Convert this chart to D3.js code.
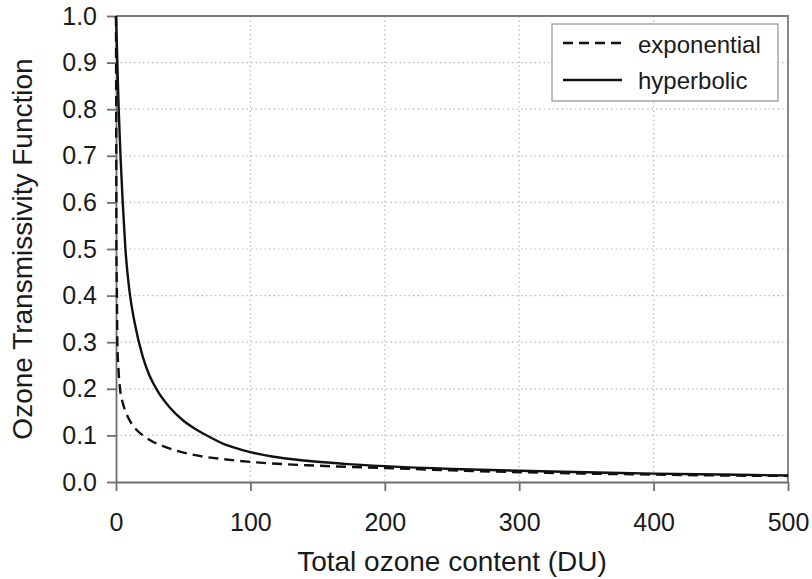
<!DOCTYPE html>
<html>
<head>
<meta charset="utf-8">
<script src="https://cdn.jsdelivr.net/npm/d3@7"></script>
<style>
  html, body { margin: 0; padding: 0; background: #fff; }
  svg { display: block; font-family: "Liberation Sans", Arial, sans-serif; }
</style>
</head>
<body>
<svg id="chart" width="812" height="579"></svg>
<script>
// Ozone transmissivity versus total ozone content (DU)
const xTicks = [0, 100, 200, 300, 400, 500];
const yTicks = [0.0, 0.1, 0.2, 0.3, 0.4, 0.5, 0.6, 0.7, 0.8, 0.9, 1.0];

// hyperbolic form: ozone content (DU) and transmissivity
const hypX = [0, 1, 2, 3.5, 5, 7, 10, 14, 20, 25, 30, 40, 50, 60, 70, 80, 90, 100, 120, 140, 170, 200, 250, 300, 350, 400, 450, 500];
const hypY = [1.0, 0.9, 0.8, 0.69, 0.6, 0.5, 0.41, 0.34, 0.268, 0.228, 0.2, 0.16, 0.132, 0.112, 0.096, 0.082, 0.072, 0.064, 0.053, 0.046, 0.039, 0.034, 0.028, 0.024, 0.021, 0.018, 0.016, 0.014];

// exponential form
const expX = [0, 0.15, 0.3, 0.7, 1, 2, 3, 5, 7, 10, 14, 20, 27, 35, 45, 60, 80, 105, 150, 200, 250, 300, 350, 400, 450, 500];
const expY = [1.0, 0.8, 0.5, 0.4, 0.3, 0.235, 0.2, 0.17, 0.152, 0.133, 0.116, 0.1, 0.087, 0.077, 0.067, 0.057, 0.049, 0.042, 0.035, 0.03, 0.025, 0.021, 0.018, 0.016, 0.014, 0.013];

const seriesNames = ["exponential", "hyperbolic"];

const svg = d3.select("#chart");
const plotL = 116, plotR = 788, plotT = 16, plotB = 482;

const x = d3.scaleLinear().domain([0, 500]).range([plotL, plotR]);
const y = d3.scaleLinear().domain([0, 1]).range([plotB, plotT]);

// dotted grid
const grid = svg.append("g");
grid.selectAll("line.gy").data(yTicks.filter(v => v > 0 && v < 1)).join("line")
  .attr("x1", plotL).attr("x2", plotR)
  .attr("y1", d => y(d)).attr("y2", d => y(d))
  .attr("stroke", "#bcbcbc").attr("stroke-width", 1.2).attr("stroke-dasharray", "1.5,3");
grid.selectAll("line.gx").data(xTicks.filter(v => v > 0 && v < 500)).join("line")
  .attr("x1", d => x(d)).attr("x2", d => x(d))
  .attr("y1", plotT).attr("y2", plotB)
  .attr("stroke", "#bcbcbc").attr("stroke-width", 1.2).attr("stroke-dasharray", "1.5,3");

// plot frame (top and right)
svg.append("path")
  .attr("d", `M${plotL},${plotT}H${plotR}V${plotB}`)
  .attr("fill", "none").attr("stroke", "#7a7a7a").attr("stroke-width", 1.8);

// axes
const yAxis = svg.append("g").attr("transform", `translate(${plotL},0)`)
  .call(d3.axisLeft(y).tickValues(yTicks).tickFormat(d3.format(".1f")).tickSize(9).tickSizeOuter(0).tickPadding(10));
const xAxis = svg.append("g").attr("transform", `translate(0,${plotB})`)
  .call(d3.axisBottom(x).tickValues(xTicks).tickFormat(d3.format("d")).tickSize(9).tickSizeOuter(0).tickPadding(22));

[yAxis, xAxis].forEach(g => {
  g.selectAll("path.domain").attr("stroke", "#6e6e6e").attr("stroke-width", 1.8);
  g.selectAll(".tick line").attr("stroke", "#6e6e6e").attr("stroke-width", 1.8);
  g.selectAll("text").attr("fill", "#1a1a1a").style("font-size", "25px")
    .style("font-family", "'Liberation Sans', Arial, sans-serif");
});

// curves
const line = d3.line().x(d => x(d[0])).y(d => y(d[1])).curve(d3.curveMonotoneX);
const expData = expX.map((v, i) => [v, expY[i]]);
const hypData = hypX.map((v, i) => [v, hypY[i]]);

svg.append("path").datum(expData).attr("d", line)
  .attr("fill", "none").attr("stroke", "#111").attr("stroke-width", 2.4)
  .attr("stroke-dasharray", "10,6");
svg.append("path").datum(hypData).attr("d", line)
  .attr("fill", "none").attr("stroke", "#111").attr("stroke-width", 2.4);

// axis titles
svg.append("text")
  .attr("x", (plotL + plotR) / 2).attr("y", 571)
  .attr("text-anchor", "middle").attr("fill", "#1a1a1a")
  .style("font-size", "28px").text("Total ozone content (DU)");
svg.append("text")
  .attr("transform", `translate(32,${(plotT + plotB) / 2}) rotate(-90)`)
  .attr("text-anchor", "middle").attr("fill", "#1a1a1a")
  .style("font-size", "28px").text("Ozone Transmissivity Function");

// legend
const legend = svg.append("g");
legend.append("rect")
  .attr("x", 552).attr("y", 24).attr("width", 226).attr("height", 77)
  .attr("fill", "#fff").attr("stroke", "#9a9a9a").attr("stroke-width", 1.3);
const rows = [
  { name: seriesNames[0], dash: "10,6", ly: 43, ty: 53 },
  { name: seriesNames[1], dash: null, ly: 80, ty: 89 }
];
rows.forEach(r => {
  legend.append("line")
    .attr("x1", 563).attr("x2", 622).attr("y1", r.ly).attr("y2", r.ly)
    .attr("stroke", "#111").attr("stroke-width", 2.4)
    .attr("stroke-dasharray", r.dash);
  legend.append("text").attr("x", 638).attr("y", r.ty)
    .attr("fill", "#1a1a1a").style("font-size", "24px").text(r.name);
});
</script>
</body>
</html>
